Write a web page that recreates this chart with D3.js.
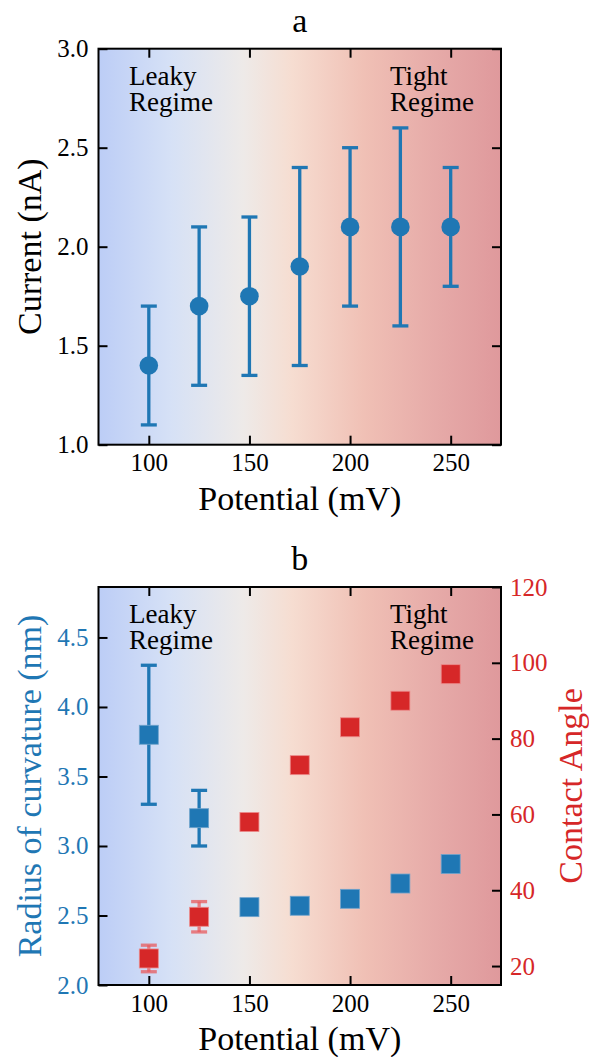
<!DOCTYPE html>
<html>
<head>
<meta charset="utf-8">
<script src="https://cdn.jsdelivr.net/npm/d3@7/dist/d3.min.js"></script>
<style>
  html, body { margin: 0; padding: 0; background: #ffffff; }
  svg { display: block; }
  text { font-family: "Liberation Serif", "DejaVu Serif", serif; }
</style>
</head>
<body>
<svg id="chart" width="589" height="1057"></svg>
<script>
// ---------- data ----------
const potential   = [100, 125, 150, 175, 200, 225, 250];
const current     = [1.40, 1.70, 1.75, 1.90, 2.10, 2.10, 2.10];
const currentErr  = [0.30, 0.40, 0.40, 0.50, 0.40, 0.50, 0.30];
const radius      = [3.80, 3.20, 2.56, 2.57, 2.62, 2.73, 2.87];
const radiusErr   = [0.50, 0.20, 0, 0, 0, 0, 0];
const angle       = [22, 33, 58, 73, 83, 90, 97];
const angleErr    = [3.5, 4, 0, 0, 0, 0, 0];

const xTicks      = [100, 150, 200, 250];
const currentTicks= [1.0, 1.5, 2.0, 2.5, 3.0];
const radiusTicks = [2.0, 2.5, 3.0, 3.5, 4.0, 4.5];
const angleTicks  = [20, 40, 60, 80, 100, 120];

const titles = ["a", "b"];
const xLabel = "Potential (mV)";
const yLabelTop = "Current (nA)";
const yLabelLeftBottom = "Radius of curvature (nm)";
const yLabelRightBottom = "Contact Angle";
const regimeLeft = ["Leaky", "Regime"];
const regimeRight = ["Tight", "Regime"];

// ---------- style ----------
const BLUE = "#1f77b4", RED = "#d62728";
const gradStops = [
  [0.00, "#bccdf6"], [0.18, "#d6e1f6"], [0.36, "#eeeae8"],
  [0.48, "#f6ddd1"], [0.66, "#f0c0b5"], [0.84, "#e6aaa8"], [1.00, "#df999c"]
];

const svg = d3.select("#chart");
const defs = svg.append("defs");
const grad = defs.append("linearGradient").attr("id", "bg")
  .attr("x1", "0%").attr("x2", "100%").attr("y1", "0%").attr("y2", "0%");
gradStops.forEach(s => grad.append("stop").attr("offset", s[0]).attr("stop-color", s[1]));

const L = 98.5, R = 501;
const x = d3.scaleLinear().domain([75, 275]).range([L, R]);

function panel(top, bottom) {
  const g = svg.append("g");
  g.append("rect").attr("x", L).attr("y", top).attr("width", R - L).attr("height", bottom - top)
    .attr("fill", "url(#bg)");
  return g;
}

function styleAxis(sel, color) {
  sel.select(".domain").remove();
  sel.selectAll(".tick line").attr("stroke", "#000").attr("stroke-width", 2);
  sel.selectAll(".tick text").attr("fill", color || "#000")
    .style("font-family", '"Liberation Serif", serif').style("font-size", "25px");
}

function frame(g, top, bottom) {
  g.append("rect").attr("x", L).attr("y", top).attr("width", R - L).attr("height", bottom - top)
    .attr("fill", "none").attr("stroke", "#000").attr("stroke-width", 2);
}

function xAxes(g, top, bottom) {
  g.append("g").attr("transform", `translate(0,${bottom})`)
    .call(d3.axisBottom(x).tickValues(xTicks).tickSize(-9).tickPadding(9).tickFormat(d3.format("d")))
    .call(s => styleAxis(s));
  g.append("g").attr("transform", `translate(0,${top})`)
    .call(d3.axisTop(x).tickValues(xTicks).tickSize(-9).tickFormat(""))
    .call(s => styleAxis(s));
  g.append("text").attr("x", (L + R) / 2).attr("y", bottom + 65)
    .attr("text-anchor", "middle").style("font-size", "34px").text(xLabel);
}

function regimes(g, top) {
  [[regimeLeft, 129], [regimeRight, 390]].forEach(([lines, xx]) => {
    lines.forEach((t, i) => {
      g.append("text").attr("x", xx).attr("y", top + 36 + i * 26)
        .style("font-size", "27px").attr("fill", "#000").text(t);
    });
  });
}

function errorBars(g, xs, ys, es, yScale, color, width) {
  const cap = 8;
  xs.forEach((xv, i) => {
    if (!es[i]) return;
    const cx = x(xv), y1 = yScale(ys[i] - es[i]), y2 = yScale(ys[i] + es[i]);
    g.append("line").attr("x1", cx).attr("x2", cx).attr("y1", y1).attr("y2", y2)
      .attr("stroke", color).attr("stroke-width", width);
    [y1, y2].forEach(yy => g.append("line").attr("x1", cx - cap).attr("x2", cx + cap)
      .attr("y1", yy).attr("y2", yy).attr("stroke", color).attr("stroke-width", width));
  });
}

// ---------- panel a ----------
{
  const top = 48.7, bottom = 444.7;
  const y = d3.scaleLinear().domain([1, 3]).range([bottom, top]);
  const g = panel(top, bottom);
  regimes(g, top);
  errorBars(g, potential, current, currentErr, y, BLUE, 3.3);
  g.selectAll("circle.pt").data(potential).enter().append("circle")
    .attr("cx", d => x(d)).attr("cy", (d, i) => y(current[i])).attr("r", 9.3).attr("fill", BLUE);
  frame(g, top, bottom);
  g.append("g").attr("transform", `translate(${L},0)`)
    .call(d3.axisLeft(y).tickValues(currentTicks).tickSize(-9).tickPadding(10).tickFormat(d3.format(".1f")))
    .call(s => styleAxis(s));
  g.append("g").attr("transform", `translate(${R},0)`)
    .call(d3.axisRight(y).tickValues(currentTicks).tickSize(-9).tickFormat(""))
    .call(s => styleAxis(s));
  xAxes(g, top, bottom);
  g.append("text").attr("transform", `translate(41,${(top + bottom) / 2}) rotate(-90)`)
    .attr("text-anchor", "middle").style("font-size", "34px").text(yLabelTop);
  g.append("text").attr("x", (L + R) / 2).attr("y", top - 17)
    .attr("text-anchor", "middle").style("font-size", "34px").text(titles[0]);
}

// ---------- panel b ----------
{
  const top = 587, bottom = 985;
  const yL = d3.scaleLinear().domain([2.0, 4.863]).range([bottom, top]);
  const yR = d3.scaleLinear().domain([15, 120]).range([bottom, top]);
  const g = panel(top, bottom);
  regimes(g, top);
  const s = 19;
  // blue radius
  errorBars(g, potential, radius, radiusErr, yL, BLUE, 3.3);
  g.selectAll("rect.rad").data(potential).enter().append("rect")
    .attr("x", d => x(d) - s / 2).attr("y", (d, i) => yL(radius[i]) - s / 2)
    .attr("width", s).attr("height", s).attr("fill", BLUE)
    .attr("stroke", "#6fa3cc").attr("stroke-width", 0.8);
  // red angle
  errorBars(g, potential, angle, angleErr, yR, "rgba(232,90,92,0.75)", 3.3);
  g.selectAll("rect.ang").data(potential).enter().append("rect")
    .attr("x", d => x(d) - s / 2).attr("y", (d, i) => yR(angle[i]) - s / 2)
    .attr("width", s).attr("height", s).attr("fill", RED)
    .attr("stroke", "#ec8a8a").attr("stroke-width", 0.8);
  frame(g, top, bottom);
  g.append("g").attr("transform", `translate(${L},0)`)
    .call(d3.axisLeft(yL).tickValues(radiusTicks).tickSize(-9).tickPadding(10).tickFormat(d3.format(".1f")))
    .call(sel => styleAxis(sel, BLUE));
  g.append("g").attr("transform", `translate(${R},0)`)
    .call(d3.axisRight(yR).tickValues(angleTicks).tickSize(-9).tickPadding(9).tickFormat(d3.format("d")))
    .call(sel => styleAxis(sel, RED));
  xAxes(g, top, bottom);
  g.append("text").attr("transform", `translate(41,${(top + bottom) / 2}) rotate(-90)`)
    .attr("text-anchor", "middle").style("font-size", "34px").attr("fill", BLUE).text(yLabelLeftBottom);
  g.append("text").attr("transform", `translate(582,${(top + bottom) / 2}) rotate(-90)`)
    .attr("text-anchor", "middle").style("font-size", "34px").attr("fill", RED).text(yLabelRightBottom);
  g.append("text").attr("x", (L + R) / 2).attr("y", top - 17)
    .attr("text-anchor", "middle").style("font-size", "34px").text(titles[1]);
}
</script>
</body>
</html>
